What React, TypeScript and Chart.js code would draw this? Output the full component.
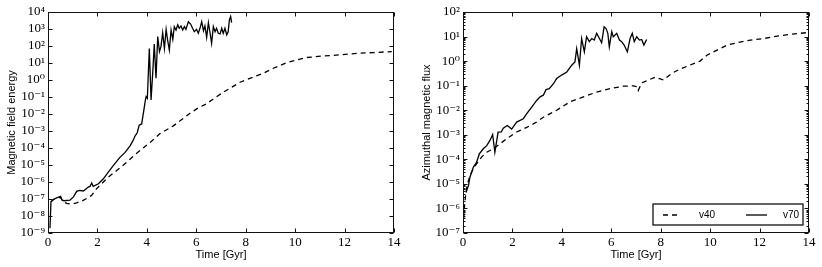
import React, { useEffect, useRef } from "react";
import { Chart, registerables } from "chart.js";

Chart.register(...registerables);

// ---------- data ----------
const timeTicks = [0, 2, 4, 6, 8, 10, 12, 14];
const energyTickExps = [-9, -8, -7, -6, -5, -4, -3, -2, -1, 0, 1, 2, 3, 4];
const fluxTickExps = [-7, -6, -5, -4, -3, -2, -1, 0, 1, 2];
const legendLabels = ["v40", "v70"];

// Left panel: magnetic field energy
const energyV40Time = [0.12, 0.22, 0.35, 0.5, 0.62, 0.76, 0.96, 1.16, 1.36, 1.56, 1.77, 1.97, 2.24, 2.44, 2.78, 3.18, 3.55, 3.85, 4.2, 4.53, 5.07, 5.4, 5.75, 6.1, 6.42, 6.75, 7.09, 7.4, 7.77, 8.17, 8.71, 9.12, 9.66, 10.07, 10.47, 11.14, 11.82, 12.49, 13.17, 13.91];
const energyV40 = [6.8e-8, 9.3e-8, 1.17e-7, 1.26e-7, 6.8e-8, 5.5e-8, 5.0e-8, 6.0e-8, 7.4e-8, 1.07e-7, 1.66e-7, 4.1e-7, 1.0e-6, 1.95e-6, 4.7e-6, 1.45e-5, 4.4e-5, 1.0e-4, 2.6e-4, 7.0e-4, 2.0e-3, 4.6e-3, 1.1e-2, 2.4e-2, 4.0e-2, 8.9e-2, 0.19, 0.35, 0.74, 1.26, 2.5, 4.9, 10.5, 15, 21, 26, 30, 37, 41, 47];

const energyV70Time = [0.08, 0.12, 0.22, 0.35, 0.51, 0.57, 0.65, 0.89, 1.03, 1.16, 1.27, 1.43, 1.56, 1.63, 1.7, 1.77, 1.83, 2.04, 2.24, 2.44, 2.64, 2.91, 3.12, 3.32, 3.45, 3.52, 3.61, 3.69, 3.79, 3.88, 3.94, 3.97, 4.02, 4.1, 4.17, 4.24, 4.3, 4.37, 4.44, 4.51, 4.57, 4.64, 4.71, 4.78, 4.84, 4.91, 4.98, 5.05, 5.11, 5.18, 5.25, 5.31, 5.38, 5.45, 5.52, 5.58, 5.68, 5.77, 5.85, 5.92, 6.01, 6.08, 6.15, 6.22, 6.29, 6.35, 6.42, 6.49, 6.55, 6.62, 6.69, 6.76, 6.82, 6.89, 6.96, 7.03, 7.09, 7.16, 7.23, 7.29, 7.34, 7.39, 7.43];
const energyV70 = [1.9e-9, 6.8e-8, 9.3e-8, 1.17e-7, 1.45e-7, 8.5e-8, 7.9e-8, 8.5e-8, 1.32e-7, 2.8e-7, 3.2e-7, 2.95e-7, 4.1e-7, 5.0e-7, 5.5e-7, 8.7e-7, 5.5e-7, 7.9e-7, 1.55e-6, 3.8e-6, 9.3e-6, 2.8e-5, 5.5e-5, 1.35e-4, 2.9e-4, 5.0e-4, 7.9e-4, 2.2e-3, 2.6e-3, 1.74e-2, 6.6e-2, 0.105, 0.083, 72, 0.066, 3.1, 132, 1.26, 355, 47, 91, 600, 72, 955, 224, 58, 870, 245, 1380, 870, 1740, 1100, 1510, 870, 1380, 955, 2690, 1950, 1100, 690, 955, 560, 1100, 2690, 790, 1510, 324, 2340, 690, 145, 1380, 690, 1100, 560, 510, 1100, 560, 1100, 450, 690, 3390, 5370, 2340];

// Right panel: azimuthal magnetic flux
const fluxV40Time = [0.03, 0.06, 0.1, 0.15, 0.28, 0.42, 0.55, 0.75, 0.96, 1.23, 1.5, 1.77, 2.17, 2.58, 2.98, 3.25, 3.79, 4.33, 4.87, 5.41, 5.95, 6.49, 6.89, 7.03, 7.09, 7.23, 7.5, 7.77, 8.04, 8.11, 8.45, 8.78, 9.19, 9.59, 9.87, 10.28, 10.69, 11.09, 11.63, 12.17, 12.71, 13.25, 13.93];
const fluxV40 = [4.0e-7, 1.2e-6, 3.0e-6, 7.2e-6, 2.2e-5, 4.1e-5, 6.6e-5, 1.23e-4, 1.95e-4, 2.7e-4, 4.3e-4, 6.9e-4, 1.3e-3, 2.0e-3, 3.3e-3, 5.2e-3, 1.0e-2, 2.2e-2, 3.5e-2, 5.5e-2, 7.6e-2, 9.5e-2, 0.098, 0.091, 0.063, 0.13, 0.17, 0.22, 0.18, 0.17, 0.32, 0.47, 0.69, 1.0, 1.74, 2.8, 4.5, 5.6, 7.2, 8.3, 10.5, 12.3, 14.5];

const fluxV70Time = [0.12, 0.15, 0.22, 0.28, 0.42, 0.55, 0.66, 0.82, 0.96, 1.09, 1.2, 1.29, 1.42, 1.55, 1.63, 1.79, 1.97, 2.17, 2.44, 2.58, 2.78, 2.98, 3.12, 3.25, 3.36, 3.49, 3.66, 3.79, 3.99, 4.2, 4.4, 4.53, 4.6, 4.71, 4.8, 4.91, 5.0, 5.11, 5.21, 5.31, 5.41, 5.52, 5.61, 5.71, 5.79, 5.86, 5.92, 6.02, 6.08, 6.22, 6.33, 6.42, 6.52, 6.65, 6.76, 6.85, 6.93, 7.03, 7.14, 7.23, 7.32, 7.43];
const fluxV70 = [4.5e-6, 5.4e-6, 8.5e-6, 1.86e-5, 4.8e-5, 7.6e-5, 1.66e-4, 2.7e-4, 3.6e-4, 5.9e-4, 1.02e-3, 1.95e-4, 1.29e-3, 1.3e-3, 1.86e-3, 2.4e-3, 1.7e-3, 3.3e-3, 4.5e-3, 7.2e-3, 1.35e-2, 2.5e-2, 3.5e-2, 4.1e-2, 6.9e-2, 7.6e-2, 0.12, 0.195, 0.27, 0.36, 0.68, 0.93, 3.2, 0.68, 8.3, 2.4, 9.8, 6.2, 8.3, 7.2, 13.5, 8.3, 5.6, 25, 21, 13.5, 3.8, 15.8, 9.8, 13.5, 7.2, 6.2, 4.5, 2.4, 8.3, 13.5, 6.2, 9.8, 7.2, 7.6, 4.5, 7.6];

// ---------- helpers ----------
const SUP: Record<string, string> = {
  "-": "\u207B", "0": "\u2070", "1": "\u00B9", "2": "\u00B2", "3": "\u00B3",
  "4": "\u2074", "5": "\u2075", "6": "\u2076", "7": "\u2077", "8": "\u2078", "9": "\u2079",
};
const powLabel = (v: number) => {
  const e = Math.round(Math.log10(v));
  return "10" + String(e).split("").map((c) => SUP[c]).join("");
};
const pts = (xs: number[], ys: number[]) => xs.map((x, i) => ({ x, y: ys[i] }));

const SERIF = "'Liberation Serif', 'DejaVu Serif', serif";
const SANS = "'Liberation Sans', 'DejaVu Sans', sans-serif";

type PanelProps = {
  left: number;
  width: number;
  yAxisWidth: number;
  padRight: number;
  titlePad: number;
  yTitle: string;
  exps: number[];
  v40: { x: number; y: number }[];
  v70: { x: number; y: number }[];
  minor: boolean;
  legend: boolean;
};

function Panel(p: PanelProps) {
  const ref = useRef<HTMLCanvasElement | null>(null);
  useEffect(() => {
    if (!ref.current) return;
    const exps = p.exps;
    const framePlugin = {
      id: "frameTicks",
      afterDatasetsDraw(chart: any) {
        const { ctx, chartArea: a, scales } = chart;
        const xs = scales.x;
        const ys = scales.y;
        const L = Math.round(a.left) + 0.5;
        const R = Math.round(a.right) - 0.5;
        const T = Math.round(a.top) + 0.5;
        const B = Math.round(a.bottom) - 0.5;
        ctx.save();
        ctx.strokeStyle = "#111";
        ctx.lineWidth = 1;
        ctx.beginPath();
        for (const v of timeTicks) {
          const px = Math.round(xs.getPixelForValue(v)) + 0.5;
          ctx.moveTo(px, B);
          ctx.lineTo(px, B - 4);
          ctx.moveTo(px, T);
          ctx.lineTo(px, T + 4);
        }
        for (const e of exps) {
          const py = Math.round(ys.getPixelForValue(Math.pow(10, e))) + 0.5;
          ctx.moveTo(L, py);
          ctx.lineTo(L + 4, py);
          ctx.moveTo(R, py);
          ctx.lineTo(R - 4, py);
          if (p.minor && e < exps[exps.length - 1]) {
            for (let k = 2; k <= 9; k++) {
              const my = Math.round(ys.getPixelForValue(k * Math.pow(10, e))) + 0.5;
              ctx.moveTo(L, my);
              ctx.lineTo(L + 2, my);
              ctx.moveTo(R, my);
              ctx.lineTo(R - 2, my);
            }
          }
        }
        ctx.stroke();
        ctx.strokeRect(L, T, R - L, B - T);
        if (p.legend) {
          const bx = R - 156 + 0.5;
          const by = B - 29 + 0.5;
          const bw = 150;
          const bh = 21;
          ctx.fillStyle = "#fff";
          ctx.fillRect(bx, by, bw, bh);
          ctx.lineWidth = 1.3;
          ctx.strokeRect(bx, by, bw, bh);
          const ly = by + 11;
          ctx.lineWidth = 1.3;
          ctx.strokeStyle = "#000";
          ctx.setLineDash([5, 4]);
          ctx.beginPath();
          ctx.moveTo(bx + 10, ly);
          ctx.lineTo(bx + 28, ly);
          ctx.stroke();
          ctx.setLineDash([]);
          ctx.beginPath();
          ctx.moveTo(bx + 93, ly);
          ctx.lineTo(bx + 114, ly);
          ctx.stroke();
          ctx.fillStyle = "#000";
          ctx.font = `10px ${SANS}`;
          ctx.textBaseline = "middle";
          ctx.textAlign = "left";
          ctx.fillText(legendLabels[0], bx + 46, ly);
          ctx.fillText(legendLabels[1], bx + 130, ly);
        }
        ctx.restore();
      },
    };
    const chart = new Chart(ref.current, {
      type: "line",
      data: {
        datasets: [
          {
            label: legendLabels[0],
            data: p.v40,
            borderColor: "#000",
            borderWidth: 1.3,
            borderDash: [5, 4],
            pointRadius: 0,
            fill: false,
            tension: 0,
          },
          {
            label: legendLabels[1],
            data: p.v70,
            borderColor: "#000",
            borderWidth: 1.3,
            pointRadius: 0,
            fill: false,
            tension: 0,
          },
        ],
      },
      options: {
        animation: false,
        responsive: false,
        maintainAspectRatio: false,
        parsing: false as any,
        normalized: true,
        layout: { padding: { top: 12, right: p.padRight, left: 0, bottom: 0 } },
        plugins: { legend: { display: false }, tooltip: { enabled: false } },
        scales: {
          x: {
            type: "linear",
            min: 0,
            max: 14,
            grid: { display: false, drawTicks: false },
            border: { display: false },
            afterBuildTicks: (s: any) => {
              s.ticks = timeTicks.map((v) => ({ value: v }));
            },
            afterFit: (s: any) => {
              s.height = 34;
            },
            ticks: {
              padding: 2,
              maxRotation: 0,
              autoSkip: false,
              color: "#000",
              font: { family: SERIF, size: 13 },
              callback: (v: any) => String(v),
            },
            title: {
              display: true,
              text: "Time [Gyr]",
              color: "#000",
              font: { family: SANS, size: 11 },
              padding: { top: 0, bottom: 5 },
            },
          },
          y: {
            type: "logarithmic",
            min: Math.pow(10, exps[0]),
            max: Math.pow(10, exps[exps.length - 1]),
            grid: { display: false, drawTicks: false },
            border: { display: false },
            afterBuildTicks: (s: any) => {
              s.ticks = exps.map((e) => ({ value: Math.pow(10, e) }));
            },
            afterFit: (s: any) => {
              s.width = p.yAxisWidth;
            },
            ticks: {
              padding: 3,
              autoSkip: false,
              color: "#000",
              font: { family: SERIF, size: 13 },
              callback: (v: any) => powLabel(Number(v)),
            },
            title: {
              display: true,
              text: p.yTitle,
              color: "#000",
              font: { family: SANS, size: 11 },
              padding: { top: p.titlePad, bottom: 0 },
            },
          },
        },
      } as any,
      plugins: [framePlugin],
    });
    return () => chart.destroy();
  }, []);
  return (
    <canvas
      ref={ref}
      width={p.width}
      height={267}
      style={{ position: "absolute", left: p.left, top: 0, width: p.width, height: 267 }}
    />
  );
}

export default function App() {
  return (
    <div style={{ position: "fixed", left: 0, top: 0, width: 822, height: 267, background: "#fff" }}>
      <Panel
        left={0}
        width={411}
        yAxisWidth={48}
        padRight={17}
        titlePad={5}
        yTitle="Magnetic field energy"
        exps={energyTickExps}
        v40={pts(energyV40Time, energyV40)}
        v70={pts(energyV70Time, energyV70)}
        minor={false}
        legend={false}
      />
      <Panel
        left={411}
        width={411}
        yAxisWidth={52}
        padRight={13}
        titlePad={9}
        yTitle="Azimuthal magnetic flux"
        exps={fluxTickExps}
        v40={pts(fluxV40Time, fluxV40)}
        v70={pts(fluxV70Time, fluxV70)}
        minor={true}
        legend={true}
      />
    </div>
  );
}
